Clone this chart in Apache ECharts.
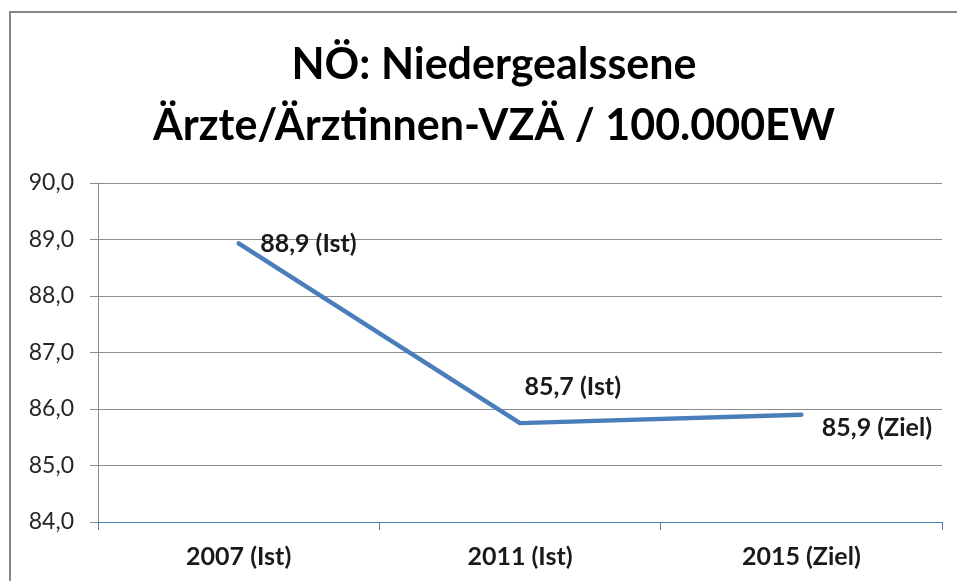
<!DOCTYPE html>
<html>
<head>
<meta charset="utf-8">
<script src="https://cdn.jsdelivr.net/npm/echarts@6/dist/echarts.min.js"></script>
<style>
  html, body { margin: 0; padding: 0; background: #fff; }
  #chart { width: 957px; height: 581px; }
</style>
</head>
<body>
<div id="chart"></div>
<script>
// Daten
const titleLines = ['NÖ: Niedergealssene', 'Ärzte/Ärztinnen-VZÄ / 100.000EW'];
const categories = ['2007 (Ist)', '2011 (Ist)', '2015 (Ziel)'];
const values = [88.93, 85.75, 85.9];
const pointLabels = ['88,9 (Ist)', '85,7 (Ist)', '85,9 (Ziel)'];

const chart = echarts.init(document.getElementById('chart'), null, { renderer: 'canvas' });

const font = 'Lato, "Open Sans", sans-serif';
const gridColor = '#8c8c8c';
const blue = '#4a7ebb';

// Beschriftungs-Lage je Punkt (wie im Excel-Original)
const labelPlace = [
  { position: 'right', distance: 21, offset: [0, 0] },
  { position: 'right', distance: 4, offset: [0, -36] },
  { position: 'right', distance: 20, offset: [0, 13] }
];

chart.setOption({
  animation: false,
  backgroundColor: '#fff',
  graphic: [{
    type: 'rect',
    shape: { x: 10, y: 12, width: 1200, height: 1200 },
    style: { fill: 'none', stroke: '#878787', lineWidth: 2 },
    silent: true
  }],
  title: {
    text: titleLines.join('\n'),
    // Titel sitzt im Original etwas rechts der Mitte
    left: 489,
    textAlign: 'center',
    top: 30,
    textStyle: { fontFamily: font, fontWeight: 'bold', fontSize: 43, lineHeight: 61, color: '#000' }
  },
  grid: { left: 98, right: 15, top: 183, bottom: 59 },
  xAxis: {
    type: 'category',
    data: categories,
    boundaryGap: true,
    axisLine: { lineStyle: { color: '#4f81bd', width: 1 } },
    axisTick: { show: true, length: 8, lineStyle: { color: '#4f81bd' } },
    axisLabel: { margin: 22, color: '#1a1a1a', fontFamily: font, fontWeight: 'bold', fontSize: 25 },
    splitLine: { show: false }
  },
  yAxis: {
    type: 'value',
    min: 84,
    max: 90,
    interval: 1,
    axisLine: { show: true, lineStyle: { color: gridColor, width: 1 } },
    axisTick: { show: true, length: 8, lineStyle: { color: gridColor } },
    axisLabel: {
      margin: 24, color: '#262626', fontFamily: font, fontSize: 23,
      formatter: v => v.toFixed(1).replace('.', ',')
    },
    splitLine: { show: true, lineStyle: { color: gridColor, width: 1 } }
  },
  series: [{
    type: 'line',
    data: values.map((v, i) => ({
      value: v,
      label: {
        show: true,
        position: labelPlace[i].position,
        distance: labelPlace[i].distance,
        offset: labelPlace[i].offset,
        formatter: () => pointLabels[i]
      }
    })),
    symbol: 'circle',
    symbolSize: 1,
    itemStyle: { color: blue },
    lineStyle: { color: blue, width: 4.5, cap: 'round', join: 'round' },
    label: { color: '#1a1a1a', fontFamily: font, fontWeight: 'bold', fontSize: 25 }
  }]
});
</script>
</body>
</html>
